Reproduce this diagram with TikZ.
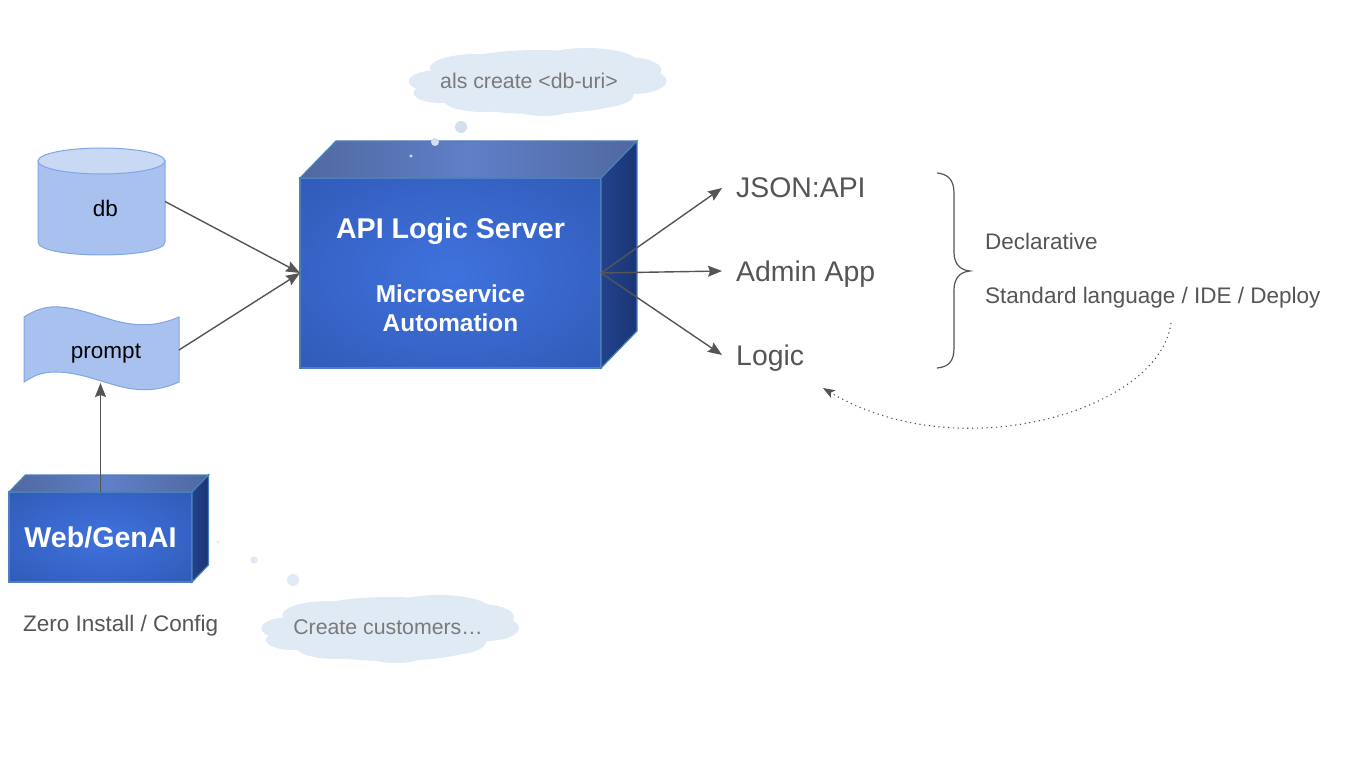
\documentclass[tikz,border=0pt]{standalone}
\usepackage{fontspec}
\setmainfont{Liberation Sans}
\usetikzlibrary{arrows.meta}
\definecolor{boxline}{HTML}{4A80BD}
\definecolor{toplight}{HTML}{5F7FC8}
\definecolor{topdark}{HTML}{50689F}
\definecolor{sidelight}{HTML}{22428C}
\definecolor{sidedark}{HTML}{1B3575}
\definecolor{docblue}{HTML}{A9C1EE}
\definecolor{doctop}{HTML}{C9D8F3}
\definecolor{docline}{HTML}{7FA6E6}
\definecolor{cloudblue}{HTML}{E0EAF5}
\definecolor{linegrey}{HTML}{555555}
\definecolor{cloudtext}{HTML}{7A7A7A}
\pgfdeclareradialshading{boxglow}{\pgfpoint{0bp}{0bp}}{rgb(0bp)=(.25,.447,.87);rgb(50bp)=(.165,.32,.66);rgb(70bp)=(.13,.26,.56);rgb(100bp)=(.13,.26,.56)}
\tikzset{
  boxfront/.style={draw=boxline, line width=1.2pt, shading=boxglow, inner sep=0pt, outer sep=0pt},
  doclabel/.style={font=\fontsize{22.5}{26}\selectfont, text=black, inner sep=0pt, outer sep=0pt},
  sidetext/.style={font=\fontsize{22.5}{26}\selectfont, text=linegrey, inner sep=0pt, anchor=west},
  outlabel/.style={font=\fontsize{28.4}{32}\selectfont, text=linegrey, inner sep=0pt, inner xsep=14pt, anchor=west, text height=20pt, text depth=0pt},
  cloudlabel/.style={font=\fontsize{21.3}{25}\selectfont, text=cloudtext, inner sep=0pt},
  whitetext/.style={text=white, font=\bfseries\fontsize{28.6}{32}\selectfont, inner sep=0pt, align=center},
  flow/.style={draw=linegrey, line width=1.4pt, -{Stealth[length=14pt,width=11pt,inset=2pt]}},
  pics/thoughtcloud/.style={code={
    \foreach \cx/\cy/\rx/\ry in {-100.7/-0.7/28/11, -60.7/-14/47/14, -17/-19/30/12, 49/-19/52/15,
        89/-12/35/13, 96/-1/33/13, 59/13/37/13, 6/19/37/15, -54/18/40/12, -97/11/27/10,
        0/0/110/26, 0/-12/90/20, 0/12/95/20}
      \fill[cloudblue] (\cx,\cy) ellipse [x radius=\rx, y radius=\ry];
  }},
}
% top and side of a box node
\newcommand{\boxfaces}[3]{
  \shade[draw=boxline, line width=1.2pt, left color=topdark, right color=topdark, middle color=toplight]
    (#1.north west) -- ++(#2,-#3) -- ([shift={(#2,-#3)}]#1.north east) -- (#1.north east) -- cycle;
  \shade[draw=boxline, line width=1.2pt, left color=sidelight, right color=sidedark]
    (#1.north east) -- ++(#2,-#3) -- ([shift={(#2,-#3)}]#1.south east) -- (#1.south east) -- cycle;
}
\begin{document}
\begin{tikzpicture}[x=1pt, y=-1pt]
\useasboundingbox (0,0) rectangle (1346,778);

% Boxes
\node[boxfront, minimum width=301pt, minimum height=190pt] (api) at (450.5,273) {};
\boxfaces{api}{36}{37}
\node[whitetext] (apititle) at (450.5,231.5) {API Logic Server};
\node[whitetext, font=\bfseries\fontsize{24.4}{29}\selectfont] (apisub) at (450.5,308.5) {Microservice\\Automation};

\node[boxfront, minimum width=183pt, minimum height=90pt, whitetext] (web) at (100.5,537) {Web/GenAI};
\boxfaces{web}{16.5}{17}

% Sources
\draw[draw=docline, line width=1pt, fill=docblue] (38,161) -- (38,242) .. controls (38,259.3) and (165,259.3) .. (165,242)
  -- (165,161) -- cycle;
\draw[draw=docline, line width=1pt, fill=doctop] (101.5,161) ellipse [x radius=63.5, y radius=13];
\node[minimum width=127pt, minimum height=107pt, inner sep=0pt, outer sep=0pt] (db) at (101.5,201.5) {};
\node[doclabel, text height=16pt, text depth=0pt] (dblabel) at (105.5,208) {db};
\draw[draw=docline, line width=1pt, fill=docblue] (24,317) .. controls (38,308) and (50,306) .. (60,307)
  .. controls (100,310) and (130,338) .. (179,317) -- (179,382) .. controls (130,404) and (100,372) .. (55,372)
  .. controls (40,372) and (32,377) .. (24,382) -- cycle;
\node[doclabel, minimum width=146pt, minimum height=66pt, text height=17pt, text depth=0pt] (prompt) at (106,350) {prompt};

% Outputs
\node[outlabel] (json) at (722,188) {JSON:API};
\node[outlabel] (admin) at (722,271) {Admin App};
\node[outlabel] (logic) at (722,355) {Logic};

% Connectors
\draw[flow] (db.east) -- (api.west);
\draw[flow] (prompt.east) -- (api.west);
\draw[flow] (web.north) -- (web.north |- prompt.south);
\draw[flow] (api.east) -- (json.west);
\draw[flow] (api.east) -- (admin.west);
\draw[flow] (api.east) -- (logic.west);

% Brace
\draw[draw=linegrey, line width=1.2pt] (937,173) .. controls (948,174) and (954,180) .. (954,193) -- (954,252)
  .. controls (954,264) and (960,270) .. (970,271) .. controls (960,272) and (954,278) .. (954,290) -- (954,348)
  .. controls (954,362) and (948,367) .. (937,368);
\node[sidetext] (declarative) at (985,241) {Declarative};
\node[sidetext] (standard) at (985,297.5) {Standard language / IDE / Deploy};
\node[sidetext] (zero) at (23,626) {Zero Install / Config};

% Dotted return
\coordinate (dotstart) at (1171,323);
\coordinate (dotend) at (823,388);
\draw[draw=linegrey, line width=1.1pt, dash pattern=on 1.2pt off 3.6pt, -{Stealth[length=12pt,width=9pt,inset=3pt]}]
  (dotstart) .. controls (1160,410) and (960,470) .. (dotend);

% Clouds
\pic at (537.5,82) {thoughtcloud};
\pic at (390,629) {thoughtcloud};
\node[cloudlabel] (clouddb) at (529,81) {als create <db-uri>};
\node[cloudlabel] (cloudcust) at (388,627) {Create customers…};
\fill[cloudblue!90!boxline] (461,127) circle (6) (435,142) circle (4) (411,156) circle (1.6);
\fill[cloudblue] (293,580) circle (6) (254,560) circle (3.6) (218,542) circle (1.6);
\end{tikzpicture}
\end{document}
